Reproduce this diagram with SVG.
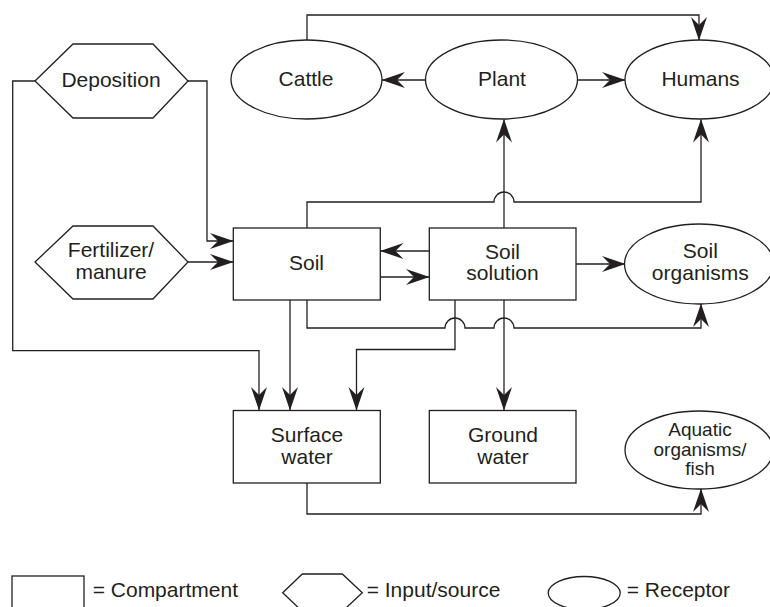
<svg xmlns="http://www.w3.org/2000/svg" width="770" height="607" viewBox="0 0 770 607">
<style>
.s{fill:#fff;stroke:#231f20;stroke-width:1.3}
.c{fill:none;stroke:#231f20;stroke-width:1.3}
text{font-family:"Liberation Sans",Arial,sans-serif;font-size:21px;fill:#231f20}
.m{text-anchor:middle}
.aq{font-size:19px}
</style>
<defs>
<marker id="ah" markerUnits="userSpaceOnUse" viewBox="-25 -9 26 18" refX="0" refY="0" markerWidth="26" markerHeight="18" orient="auto">
<path d="M0.5,0 L-23,-8 L-15,0 L-23,8 Z" fill="#231f20"/>
</marker>
</defs>
<rect width="770" height="607" fill="#fff"/>
<g id="connectors" class="c" marker-end="url(#ah)">
<path d="M188,81 H207 V241 H233"/>
<path d="M35,81 H12.7 V350.7 H259 V410"/>
<path d="M188,262 H233"/>
<path d="M307,228 V202 H494 A10,10 0 0 1 514,202 H701 V119.5"/>
<path d="M504,228 V119.5"/>
<path d="M307,40 V15 H699 V40"/>
<path d="M425.5,80 H382"/>
<path d="M577.5,80 H625"/>
<path d="M429,251 H380.5"/>
<path d="M380.5,277 H429"/>
<path d="M576,264 H625"/>
<path d="M290,300 V410"/>
<path d="M307,300 V328 H445 A10,10 0 0 1 465,328 H494 A10,10 0 0 1 514,328 H701 V304"/>
<path d="M455,300 V349.5 H356.5 V410"/>
<path d="M504,300 V410"/>
<path d="M307,483 V514 H701 V489"/>
</g>
<g id="deposition">
<polygon class="s" points="35,81 73,44 153,44 188,81 153,118 73,118"/>
<text class="m" x="111" y="87">Deposition</text>
</g>
<g id="cattle">
<ellipse class="s" cx="306.5" cy="79.5" rx="75.5" ry="39.5"/>
<text class="m" x="306" y="86">Cattle</text>
</g>
<g id="plant">
<ellipse class="s" cx="501.5" cy="79.5" rx="76" ry="39.5"/>
<text class="m" x="502" y="86">Plant</text>
</g>
<g id="humans">
<ellipse class="s" cx="699.5" cy="79.5" rx="74.5" ry="39.5"/>
<text class="m" x="700.5" y="86">Humans</text>
</g>
<g id="fertilizer">
<polygon class="s" points="35,262 73,226 153,226 188,262 153,299 73,299"/>
<text class="m" x="111" y="257">Fertilizer/</text>
<text class="m" x="111" y="279">manure</text>
</g>
<g id="soil">
<rect class="s" x="233.3" y="228" width="147" height="72"/>
<text class="m" x="306.5" y="270">Soil</text>
</g>
<g id="soil-solution">
<rect class="s" x="429.3" y="228" width="146.7" height="72"/>
<text class="m" x="502.5" y="258.5">Soil</text>
<text class="m" x="502.5" y="280">solution</text>
</g>
<g id="soil-organisms">
<ellipse class="s" cx="699" cy="264" rx="74.5" ry="40"/>
<text class="m" x="700.3" y="258">Soil</text>
<text class="m" x="700.3" y="280">organisms</text>
</g>
<g id="surface-water">
<rect class="s" x="233.3" y="410.5" width="147" height="72.5"/>
<text class="m" x="307" y="442">Surface</text>
<text class="m" x="307" y="463.5">water</text>
</g>
<g id="ground-water">
<rect class="s" x="429.3" y="410.5" width="146.7" height="72.5"/>
<text class="m" x="503" y="442">Ground</text>
<text class="m" x="503" y="463.5">water</text>
</g>
<g id="aquatic">
<ellipse class="s" cx="699" cy="450" rx="74" ry="39"/>
<text class="m aq" x="700" y="436">Aquatic</text>
<text class="m aq" x="700" y="455.5">organisms/</text>
<text class="m aq" x="700" y="475">fish</text>
</g>
<g id="legend">
<rect class="s" x="12" y="576" width="72" height="40"/>
<text x="92.7" y="597">= Compartment</text>
<polygon class="s" points="282.7,592.7 302.3,574 342.3,574 362.3,592.7 342.3,611.4 302.3,611.4"/>
<text x="366.7" y="597">= Input/source</text>
<ellipse class="s" cx="584.2" cy="593" rx="36" ry="16.5"/>
<text x="626.7" y="597">= Receptor</text>
</g>
</svg>
